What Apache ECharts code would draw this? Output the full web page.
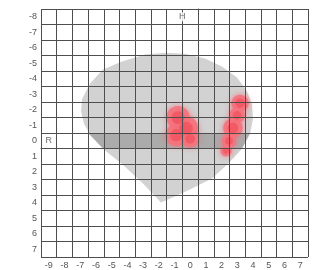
<!DOCTYPE html>
<html>
<head>
<meta charset="utf-8">
<script src="https://cdn.jsdelivr.net/npm/echarts@6/dist/echarts.min.js"></script>
<style>
  html, body { margin: 0; padding: 0; background: #fff; }
  #chart { width: 312px; height: 270px; }
</style>
</head>
<body>
<div id="chart"></div>
<script>
// tick labels (cell centres)
const xLabels = ['-9','-8','-7','-6','-5','-4','-3','-2','-1','0','1','2','3','4','5','6','7']
const yLabels = ['-8','-7','-6','-5','-4','-3','-2','-1','0','1','2','3','4','5','6','7']

// field outline, [x, y] in grid units (cell k spans k-1..k)
const fieldOutline = [
  [-2.36, 3.48], [-1.47, 3.10], [-0.39, 2.58], [0.89, 1.94], [1.91, 0.98],
  [2.80, 0.02], [3.31, -0.94], [3.50, -1.90], [3.43, -2.86], [3.12, -3.69],
  [2.48, -4.58], [1.52, -5.29], [0.44, -5.80], [-0.83, -6.12], [-2.10, -6.18],
  [-3.38, -6.06], [-4.84, -5.61], [-6.05, -5.10], [-6.88, -4.20], [-7.39, -3.18],
  [-7.45, -2.41], [-7.26, -1.58], [-6.88, -0.94], [-6.05, 0.02], [-4.72, 1.11],
  [-3.51, 2.26]
]
// darker band on row 0
const bandOutline = [[-7.0, -1], [3.3, -1], [2.8, 0], [-6.05, 0]]

// hot spots: [x, y, radius]
const spots = [
  [-1.28, -2.00, 0.74], [-0.77, -1.30, 0.78], [-1.40, -0.85, 0.70], [-0.50, -0.62, 0.55],
  [2.67, -2.92, 0.55], [2.48, -2.15, 0.50], [2.22, -1.32, 0.62], [1.97, -0.49, 0.45], [1.78, 0.15, 0.36]
]

// text markers: [text, x, y]
const markers = [['R', -9.5, -0.5], ['H', -1, -8.5]]

const chart = echarts.init(document.getElementById('chart'))
const font = 'Liberation Sans, Arial, sans-serif'
const lineCol = '#4e4e4e'

function polySeries(points, color) {
  return {
    type: 'custom',
    xAxisIndex: 0, yAxisIndex: 0,
    data: [0],
    silent: true,
    z: 1,
    renderItem(params, api) {
      return {
        type: 'polygon',
        shape: { points: points.map(p => api.coord(p)), smooth: 0 },
        style: { fill: color }
      }
    }
  }
}

function spotSeries(scale, color, blur, z) {
  return {
    type: 'custom',
    xAxisIndex: 0, yAxisIndex: 0,
    data: spots,
    silent: true,
    z: z,
    renderItem(params, api) {
      const c = api.coord([api.value(0), api.value(1)])
      const s = api.size([api.value(2) * scale, api.value(2) * scale])
      return {
        type: 'ellipse',
        shape: { cx: c[0], cy: c[1], rx: s[0], ry: s[1] },
        style: { fill: color, shadowBlur: blur, shadowColor: color }
      }
    }
  }
}

chart.setOption({
  animation: false,
  grid: { left: 41, top: 9, width: 267, height: 250 },
  xAxis: [
    {
      type: 'value', min: -10, max: 7, interval: 1, position: 'bottom', z: 10,
      axisLine: { show: true, lineStyle: { color: lineCol } },
      axisTick: { show: false }, axisLabel: { show: false },
      splitLine: { show: true, lineStyle: { color: lineCol, width: 1 } }
    },
    {
      type: 'category', data: xLabels, position: 'bottom', boundaryGap: true,
      axisLine: { show: false }, axisTick: { show: false }, splitLine: { show: false },
      axisLabel: { color: '#555', fontSize: 9, fontFamily: font, margin: 4, interval: 0 }
    }
  ],
  yAxis: [
    {
      type: 'value', min: -9, max: 7, interval: 1, inverse: true, position: 'left', z: 10,
      axisLine: { show: true, lineStyle: { color: lineCol } },
      axisTick: { show: false }, axisLabel: { show: false },
      splitLine: { show: true, lineStyle: { color: lineCol, width: 1 } }
    },
    {
      type: 'category', data: yLabels, inverse: true, position: 'left', boundaryGap: true,
      axisLine: { show: false }, axisTick: { show: false }, splitLine: { show: false },
      axisLabel: { color: '#555', fontSize: 9, fontFamily: font, margin: 4, interval: 0 }
    }
  ],
  series: [
    polySeries(fieldOutline, '#d2d2d2'),
    polySeries(bandOutline, '#ababab'),
    spotSeries(1, 'rgba(245,118,128,0.92)', 6, 2),
    spotSeries(0.55, 'rgba(238,45,60,0.35)', 8, 3),
    {
      type: 'scatter',
      xAxisIndex: 0, yAxisIndex: 0,
      symbolSize: 0,
      z: 20,
      data: markers.map(m => ({ name: m[0], value: [m[1], m[2]] })),
      label: {
        show: true, position: 'inside', formatter: '{b}',
        color: '#444', fontSize: 9, fontFamily: font,
        backgroundColor: '#fff', padding: [0, 1]
      }
    }
  ]
})
</script>
</body>
</html>
